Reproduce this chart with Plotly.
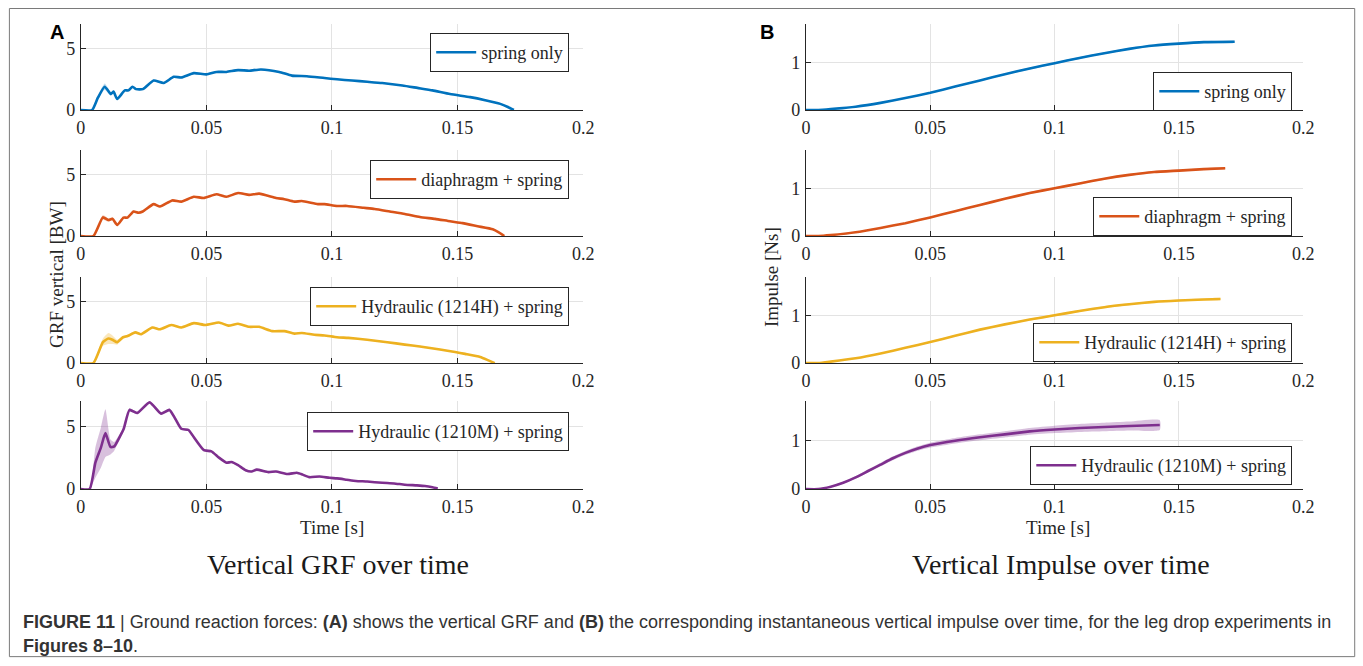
import plotly.graph_objects as go

# The capture maps page pixels to picture pixels as  x' = 4.1 + 0.9896 x,  y' = 0.985 y.
# Figure coordinates below are pre-compensated for that so marks land on the reference pixels.
CX0, CKX, CKY = 4.1, 0.9896, 0.985
W, H = 1375, 676

# ---------------- data ----------------
series_names = ["spring only", "diaphragm + spring",
                "Hydraulic (1214H) + spring", "Hydraulic (1210M) + spring"]
series_colors = ["#0072BD", "#D95319", "#EDB120", "#7E2F8E"]
band_colors = ["rgba(0,114,189,0.25)", "rgba(217,83,25,0.25)",
               "rgba(237,177,32,0.3)", "rgba(126,47,142,0.3)"]

# Panel A: vertical GRF [BW]
t_grf_spring = [0, 0.0045, 0.0068, 0.0095, 0.012, 0.013, 0.0145, 0.0175, 0.019, 0.0206,
                0.022, 0.0247, 0.029, 0.033, 0.037, 0.040, 0.045, 0.050, 0.054, 0.058,
                0.0626, 0.067, 0.0717, 0.079, 0.084, 0.090, 0.097, 0.102, 0.108, 0.114,
                0.120, 0.128, 0.134, 0.140, 0.147, 0.155, 0.161, 0.167, 0.170, 0.1724]
grf_spring = [0, 0, 1.0, 1.9, 1.3, 1.5, 0.9, 1.6, 1.6, 1.9,
              1.7, 1.7, 2.4, 2.2, 2.7, 2.65, 3.0, 2.9, 3.1, 3.1,
              3.25, 3.2, 3.3, 3.1, 2.8, 2.75, 2.6, 2.5, 2.4, 2.3,
              2.2, 2.0, 1.8, 1.6, 1.3, 1.05, 0.8, 0.5, 0.25, 0]
sd_grf_spring = [0, 0, 0.15, 0.25, 0.15, 0.1, 0.1, 0.1, 0.08, 0.08,
                 0.08, 0.08, 0.08, 0.07, 0.07, 0.07, 0.07, 0.06, 0.06, 0.06,
                 0.06, 0.06, 0.06, 0.06, 0.06, 0.05, 0.05, 0.05, 0.05, 0.05,
                 0.05, 0.05, 0.05, 0.05, 0.05, 0.05, 0.05, 0.05, 0.04, 0]

t_grf_diaph = [0, 0.005, 0.0088, 0.011, 0.0126, 0.0145, 0.017, 0.0186, 0.021, 0.023,
               0.0247, 0.029, 0.0315, 0.0364, 0.040, 0.045, 0.0489, 0.054, 0.058, 0.0626,
               0.067, 0.071, 0.0777, 0.081, 0.085, 0.088, 0.0944, 0.097, 0.102, 0.106,
               0.1126, 0.117, 0.123, 0.129, 0.135, 0.141, 0.147, 0.152, 0.158, 0.164,
               0.1664, 0.1686]
grf_diaph = [0, 0, 1.52, 1.3, 1.4, 0.9, 1.5, 1.5, 2.0, 1.9,
             2.0, 2.6, 2.4, 2.9, 2.8, 3.2, 3.1, 3.4, 3.2, 3.5,
             3.35, 3.45, 3.1, 3.0, 2.8, 2.85, 2.6, 2.6, 2.45, 2.45,
             2.3, 2.2, 2.0, 1.8, 1.55, 1.4, 1.2, 1.05, 0.8, 0.55,
             0.3, 0]
sd_grf_diaph = [0, 0, 0.2, 0.15, 0.1, 0.1, 0.08, 0.08, 0.08, 0.08,
                0.07, 0.07, 0.07, 0.07, 0.06, 0.06, 0.06, 0.06, 0.06, 0.06,
                0.06, 0.06, 0.06, 0.05, 0.05, 0.05, 0.05, 0.05, 0.05, 0.05,
                0.05, 0.05, 0.05, 0.05, 0.05, 0.05, 0.05, 0.05, 0.05, 0.05,
                0.04, 0]

t_grf_1214h = [0, 0.005, 0.0088, 0.011, 0.0126, 0.0145, 0.0168, 0.0186, 0.0217, 0.024,
               0.0285, 0.0315, 0.036, 0.040, 0.045, 0.0497, 0.055, 0.0588, 0.0626, 0.067,
               0.071, 0.0762, 0.081, 0.085, 0.088, 0.093, 0.097, 0.102, 0.1065, 0.114,
               0.122, 0.129, 0.135, 0.143, 0.149, 0.153, 0.159, 0.1625, 0.1648]
grf_1214h = [0, 0, 1.7, 2.0, 1.9, 1.7, 2.1, 2.2, 2.5, 2.35,
             2.9, 2.75, 3.1, 2.9, 3.25, 3.1, 3.3, 3.05, 3.2, 2.95,
             2.95, 2.6, 2.6, 2.4, 2.45, 2.3, 2.25, 2.1, 2.05, 1.9,
             1.7, 1.5, 1.35, 1.1, 0.9, 0.75, 0.5, 0.2, 0]
sd_grf_1214h = [0, 0, 0.3, 0.45, 0.35, 0.2, 0.1, 0.1, 0.08, 0.08,
                0.07, 0.07, 0.07, 0.07, 0.06, 0.06, 0.06, 0.06, 0.06, 0.06,
                0.06, 0.05, 0.05, 0.05, 0.05, 0.05, 0.05, 0.05, 0.05, 0.05,
                0.05, 0.05, 0.05, 0.05, 0.05, 0.05, 0.05, 0.04, 0]

t_grf_1210m = [0, 0.0035, 0.0058, 0.008, 0.0098, 0.0118, 0.0133, 0.0156, 0.0171, 0.0194,
               0.0224, 0.0274, 0.032, 0.0353, 0.0376, 0.040, 0.0429, 0.0444, 0.049, 0.052,
               0.055, 0.058, 0.060, 0.0626, 0.0656, 0.068, 0.070, 0.0747, 0.0777, 0.0823,
               0.086, 0.0883, 0.091, 0.095, 0.099, 0.102, 0.1058, 0.1095, 0.114, 0.120,
               0.1247, 0.129, 0.1337, 0.137, 0.140, 0.1421]
grf_1210m = [0, 0, 2.1, 3.3, 4.45, 3.35, 3.4, 4.2, 4.8, 6.3,
             6.05, 6.9, 6.0, 6.3, 5.6, 4.8, 4.7, 4.3, 3.1, 3.0,
             2.5, 2.1, 2.15, 1.9, 1.5, 1.4, 1.55, 1.35, 1.4, 1.2,
             1.3, 1.15, 0.95, 1.0, 0.9, 0.85, 0.75, 0.65, 0.6, 0.5,
             0.45, 0.35, 0.3, 0.25, 0.15, 0.05]
sd_grf_1210m = [0, 0, 1.2, 1.6, 1.9, 0.6, 0.35, 0.2, 0.15, 0.12,
                0.1, 0.1, 0.1, 0.1, 0.1, 0.08, 0.08, 0.08, 0.08, 0.07,
                0.07, 0.07, 0.07, 0.06, 0.06, 0.06, 0.06, 0.06, 0.05, 0.05,
                0.05, 0.05, 0.05, 0.05, 0.05, 0.05, 0.05, 0.05, 0.04, 0.04,
                0.04, 0.04, 0.04, 0.03, 0.03, 0.02]

# Panel B: vertical impulse [Ns]
t_imp_spring = [0, 0.005, 0.01, 0.02, 0.03, 0.04, 0.05, 0.06, 0.07, 0.08,
                0.09, 0.10, 0.11, 0.12, 0.13, 0.14, 0.15, 0.16, 0.1724]
imp_spring = [0, 0, 0.02, 0.07, 0.15, 0.25, 0.36, 0.49, 0.62, 0.75,
              0.87, 0.98, 1.09, 1.19, 1.28, 1.35, 1.39, 1.42, 1.43]
sd_imp_spring = [0, 0, 0.005, 0.01, 0.01, 0.01, 0.015, 0.015, 0.015, 0.015,
                 0.02, 0.02, 0.02, 0.02, 0.02, 0.02, 0.02, 0.02, 0.02]

t_imp_diaph = [0, 0.005, 0.01, 0.02, 0.03, 0.04, 0.05, 0.06, 0.07, 0.08,
               0.09, 0.10, 0.11, 0.12, 0.13, 0.14, 0.15, 0.16, 0.1686]
imp_diaph = [0, 0, 0.02, 0.08, 0.17, 0.27, 0.39, 0.52, 0.65, 0.78,
             0.90, 1.00, 1.10, 1.20, 1.28, 1.34, 1.37, 1.40, 1.42]
sd_imp_diaph = [0, 0, 0.005, 0.01, 0.01, 0.01, 0.015, 0.015, 0.015, 0.015,
                0.02, 0.02, 0.02, 0.02, 0.02, 0.02, 0.02, 0.02, 0.02]

t_imp_1214h = [0, 0.005, 0.01, 0.02, 0.03, 0.04, 0.05, 0.06, 0.07, 0.08,
               0.09, 0.10, 0.11, 0.12, 0.13, 0.14, 0.15, 0.16, 0.1667]
imp_1214h = [0, 0, 0.03, 0.10, 0.20, 0.32, 0.44, 0.57, 0.70, 0.81,
             0.91, 1.00, 1.09, 1.17, 1.23, 1.28, 1.31, 1.33, 1.34]
sd_imp_1214h = [0, 0, 0.005, 0.01, 0.01, 0.01, 0.015, 0.015, 0.015, 0.015,
                0.02, 0.02, 0.02, 0.02, 0.02, 0.02, 0.02, 0.02, 0.02]

t_imp_1210m = [0, 0.005, 0.01, 0.015, 0.02, 0.025, 0.03, 0.035, 0.04, 0.045,
               0.05, 0.06, 0.07, 0.08, 0.09, 0.10, 0.11, 0.12, 0.13, 0.1423]
imp_1210m = [0, 0, 0.05, 0.13, 0.24, 0.37, 0.50, 0.63, 0.74, 0.83,
             0.90, 0.99, 1.06, 1.12, 1.18, 1.22, 1.25, 1.27, 1.29, 1.31]
sd_imp_1210m = [0, 0, 0.01, 0.02, 0.025, 0.03, 0.035, 0.04, 0.04, 0.045,
                0.05, 0.055, 0.06, 0.065, 0.07, 0.075, 0.08, 0.085, 0.09, 0.1]

grf_t = [t_grf_spring, t_grf_diaph, t_grf_1214h, t_grf_1210m]
grf_y = [grf_spring, grf_diaph, grf_1214h, grf_1210m]
grf_sd = [sd_grf_spring, sd_grf_diaph, sd_grf_1214h, sd_grf_1210m]
imp_t = [t_imp_spring, t_imp_diaph, t_imp_1214h, t_imp_1210m]
imp_y = [imp_spring, imp_diaph, imp_1214h, imp_1210m]
imp_sd = [sd_imp_spring, sd_imp_diaph, sd_imp_1214h, sd_imp_1210m]

x_ticks = [0, 0.05, 0.1, 0.15, 0.2]
x_ticklabels = ["0", "0.05", "0.1", "0.15", "0.2"]
grf_yticks = [0, 5]
imp_yticks = [0, 1]

# ---------------- layout helpers (reference-pixel -> paper) ----------------
def px(x):
    return ((x - CX0) / CKX) / W


def py(y):
    return 1 - (y / CKY) / H


SERIF = "Liberation Serif"
TXT = "#262626"

left_x = [80, 583]
right_x = [806, 1304]
tops = [24, 150, 277, 401]
bottoms = [110, 236, 363, 489]
left_leg = [(569, 33), (569, 160), (569, 287), (569, 412)]
right_leg = [(1293, 72), (1293, 197), (1293, 323), (1293, 446)]

fig = go.Figure()
layout = dict(
    width=W, height=H, margin=dict(l=0, r=0, t=0, b=0),
    paper_bgcolor="white", plot_bgcolor="white",
    font=dict(family=SERIF, size=16, color=TXT),
)


def add_panel(idx, ts, ys, sds, color, band, name, xdom, ydom, ymax, yticks, legpos):
    ax = "" if idx == 1 else str(idx)
    lower = [y - s for y, s in zip(ys, sds)]
    upper = [y + s for y, s in zip(ys, sds)]
    fig.add_trace(go.Scatter(
        x=list(ts) + list(ts)[::-1], y=upper + lower[::-1],
        fill="toself", fillcolor=band, line=dict(width=0, shape="spline", smoothing=0.5),
        mode="lines", hoverinfo="skip", showlegend=False, xaxis="x" + ax, yaxis="y" + ax))
    leg = "legend" if idx == 1 else "legend" + str(idx)
    fig.add_trace(go.Scatter(
        x=ts, y=ys, mode="lines", name=name,
        line=dict(color=color, width=2.6, shape="spline", smoothing=0.5),
        xaxis="x" + ax, yaxis="y" + ax, legend=leg, showlegend=True))
    common = dict(showline=True, linecolor=TXT, linewidth=1, mirror=False,
                  ticks="inside", ticklen=5, tickcolor=TXT, tickwidth=1,
                  showgrid=True, gridcolor="#e3e3e3", gridwidth=1, zeroline=False,
                  tickfont=dict(family=SERIF, size=18, color=TXT))
    layout["xaxis" + ax] = dict(domain=[px(xdom[0]), px(xdom[1])], anchor="y" + ax,
                                range=[0, 0.2], tickvals=x_ticks, ticktext=x_ticklabels,
                                ticklabelstandoff=1, **common)
    layout["yaxis" + ax] = dict(domain=[py(ydom[1]), py(ydom[0])], anchor="x" + ax,
                                range=[0, ymax], tickvals=yticks,
                                ticklabelstandoff=1, **common)
    layout[leg] = dict(x=px(legpos[0]), y=py(legpos[1]), xanchor="right", yanchor="top",
                       xref="paper", yref="paper",
                       bgcolor="white", bordercolor=TXT, borderwidth=1,
                       font=dict(family=SERIF, size=18, color=TXT),
                       itemwidth=40, tracegroupgap=0)


for i in range(4):
    add_panel(i + 1, grf_t[i], grf_y[i], grf_sd[i], series_colors[i], band_colors[i],
              series_names[i], left_x, (tops[i], bottoms[i]), 7, grf_yticks, left_leg[i])
for i in range(4):
    add_panel(i + 5, imp_t[i], imp_y[i], imp_sd[i], series_colors[i], band_colors[i],
              series_names[i], right_x, (tops[i], bottoms[i]), 1.8, imp_yticks, right_leg[i])

SANS = "Liberation Sans"
annotations = [
    dict(text="<b>A</b>", x=px(56), y=py(32), font=dict(family=SANS, size=20, color="black")),
    dict(text="<b>B</b>", x=px(767), y=py(32), font=dict(family=SANS, size=20, color="black")),
    dict(text="GRF vertical [BW]", x=px(55), y=py(274), textangle=-90,
         font=dict(family=SERIF, size=19, color=TXT)),
    dict(text="Impulse [Ns]", x=px(771), y=py(277), textangle=-90,
         font=dict(family=SERIF, size=19, color=TXT)),
    dict(text="Time [s]", x=px(332), y=py(527), font=dict(family=SERIF, size=19, color=TXT)),
    dict(text="Time [s]", x=px(1058), y=py(527), font=dict(family=SERIF, size=19, color=TXT)),
    dict(text="Vertical GRF over time", x=px(338), y=py(564),
         font=dict(family=SERIF, size=28, color="#1a1a1a")),
    dict(text="Vertical Impulse over time", x=px(1061), y=py(564),
         font=dict(family=SERIF, size=28, color="#1a1a1a")),
    dict(text="<b>FIGURE 11</b> | Ground reaction forces: <b>(A)</b> shows the vertical GRF and "
              "<b>(B)</b> the corresponding instantaneous vertical impulse over time, for the leg "
              "drop experiments in",
         x=px(20), y=py(622), xanchor="left",
         font=dict(family=SANS, size=18, color="#333333")),
    dict(text="<b>Figures 8–10</b>.", x=px(20), y=py(646), xanchor="left",
         font=dict(family=SANS, size=18, color="#333333")),
]
for a in annotations:
    a.setdefault("xanchor", "center")
    a.update(xref="paper", yref="paper", yanchor="middle", showarrow=False)
layout["annotations"] = annotations
layout["shapes"] = [dict(type="rect", xref="paper", yref="paper",
                         x0=px(8.5), x1=px(1355.5), y0=py(656.5), y1=py(8.5),
                         line=dict(color="#7a7a7a", width=1), fillcolor="rgba(0,0,0,0)")]

fig.update_layout(**layout)

# remove the page's default body margin so the figure starts at the window corner
fit_page = ("document.documentElement.style.margin='0';"
            "document.documentElement.style.overflow='hidden';"
            "document.body.style.margin='0';"
            "document.body.style.overflow='hidden';")
fig.write_html("out.html", post_script=fit_page, config={"displayModeBar": False})
